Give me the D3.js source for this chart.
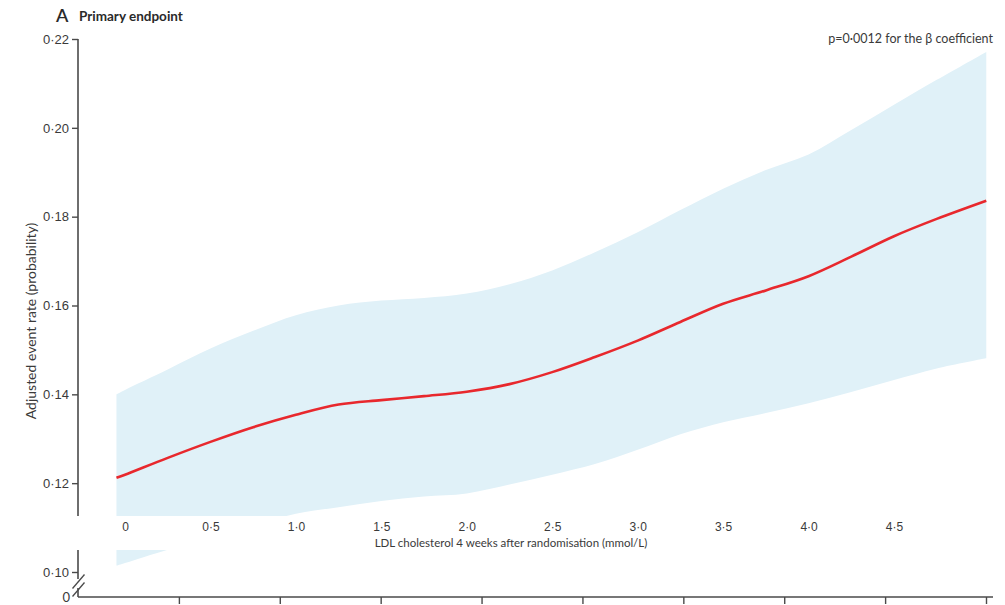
<!DOCTYPE html>
<html>
<head>
<meta charset="utf-8">
<script src="https://cdn.jsdelivr.net/npm/d3@7"></script>
<style>
  html, body { margin: 0; padding: 0; background: #fff; }
  svg { display: block; font-family: Lato, "Open Sans", sans-serif; }
</style>
</head>
<body>
<svg id="chart" width="1005" height="605"></svg>
<script>
// LDL cholesterol (mmol/L) at which the fitted curve is evaluated
const ldl = [-0.05, 0, 0.25, 0.5, 0.75, 1.0, 1.25, 1.5, 1.75, 2.0, 2.25, 2.5,
             2.75, 3.0, 3.25, 3.5, 3.75, 4.0, 4.25, 4.5, 4.75, 5.04];
// Adjusted event rate (probability)
const rate = [0.1212, 0.1219, 0.1257, 0.1293, 0.1326, 0.1354, 0.1377, 0.1387,
              0.1396, 0.1406, 0.1423, 0.1450, 0.1484, 0.1521, 0.1563, 0.1604,
              0.1634, 0.1666, 0.1710, 0.1756, 0.1795, 0.1836];
// 95% confidence band
const upper = [0.1400, 0.1410, 0.1456, 0.1503, 0.1543, 0.1578, 0.1600, 0.1611,
               0.1617, 0.1627, 0.1648, 0.1679, 0.1720, 0.1765, 0.1815, 0.1863,
               0.1905, 0.1940, 0.1995, 0.2052, 0.2108, 0.2171];
const lower = [0.1014, 0.1020, 0.1050, 0.1077, 0.1104, 0.1131, 0.1146, 0.1160,
               0.1170, 0.1177, 0.1197, 0.1219, 0.1243, 0.1275, 0.1310, 0.1337,
               0.1358, 0.1380, 0.1405, 0.1432, 0.1458, 0.1481];

const xTicks = [0, 0.5, 1.0, 1.5, 2.0, 2.5, 3.0, 3.5, 4.0, 4.5];
const yTicks = [0.10, 0.12, 0.14, 0.16, 0.18, 0.20, 0.22];
const baseTicks = [1, 2, 3, 4, 5, 6, 7, 8, 9];

const fmt = d => d3.format(".2f")(d).replace(".", "\u00B7");
const fmt1 = d => d === 0 ? "0" : d3.format(".1f")(d).replace(".", "\u00B7");

const svg = d3.select("#chart");
const axisColor = "#4a4a4a";
const textColor = "#3a3a3a";

const x = d3.scaleLinear().domain([0, 4.5]).range([125, 894]);
const y = d3.scaleLinear().domain([0.10, 0.22]).range([572, 39]);
const xBase = d3.scaleLinear().domain([0, 9]).range([78, 986]);

const rows = ldl.map((v, i) => ({ v, r: rate[i], hi: upper[i], lo: lower[i] }));
const smooth = d3.curveCatmullRom.alpha(0.5);

// confidence band
svg.append("path")
  .datum(rows)
  .attr("fill", "#e0f1f8")
  .attr("d", d3.area()
    .x(d => x(d.v))
    .y0(d => y(d.lo))
    .y1(d => y(d.hi))
    .curve(smooth));

// fitted curve
svg.append("path")
  .datum(rows)
  .attr("fill", "none")
  .attr("stroke", "#e8282d")
  .attr("stroke-width", 2.6)
  .attr("d", d3.line()
    .x(d => x(d.v))
    .y(d => y(d.r))
    .curve(smooth));

// y axis
const yAxis = svg.append("g")
  .attr("transform", "translate(78,0)")
  .call(d3.axisLeft(y).tickValues(yTicks).tickFormat(fmt).tickSize(6).tickPadding(3).tickSizeOuter(0));
yAxis.select(".domain").remove();
yAxis.selectAll(".tick line").attr("stroke", axisColor).attr("stroke-width", 1.4);
yAxis.selectAll(".tick text").attr("fill", textColor).style("font-size", "13px");

svg.append("line")
  .attr("x1", 78).attr("x2", 78)
  .attr("y1", y(0.22)).attr("y2", 597)
  .attr("stroke", axisColor).attr("stroke-width", 1.6);

// zero label below the axis break
svg.append("text")
  .attr("x", 70).attr("y", 597).attr("dy", "0.35em")
  .attr("text-anchor", "end")
  .attr("fill", textColor).style("font-size", "13px")
  .text("0");

// bottom axis
const bAxis = svg.append("g")
  .attr("transform", "translate(0,597)")
  .call(d3.axisBottom(xBase).tickValues(baseTicks).tickFormat("").tickSize(7).tickSizeOuter(0));
bAxis.select(".domain").remove();
bAxis.selectAll(".tick line").attr("stroke", axisColor).attr("stroke-width", 1.4);
svg.append("line")
  .attr("x1", 78).attr("x2", 993)
  .attr("y1", 597).attr("y2", 597)
  .attr("stroke", axisColor).attr("stroke-width", 1.6);

// axis break on the y axis
svg.append("rect").attr("x", 74).attr("y", 579).attr("width", 8).attr("height", 9).attr("fill", "#fff");
[[588.5, 574.5], [596.5, 582.5]].forEach(([a, b]) => {
  svg.append("line")
    .attr("x1", 72.5).attr("y1", a).attr("x2", 84.5).attr("y2", b)
    .attr("stroke", axisColor).attr("stroke-width", 1.3);
});

// label strip across the plot
svg.append("rect")
  .attr("x", 75).attr("y", 516).attr("width", 930).attr("height", 34)
  .attr("fill", "#fff");

const xLab = svg.append("g")
  .attr("transform", "translate(0,516)")
  .call(d3.axisBottom(x).tickValues(xTicks).tickFormat(fmt1).tickSize(0).tickPadding(6));
xLab.select(".domain").remove();
xLab.selectAll(".tick text").attr("fill", textColor).style("font-size", "12px");

svg.append("text")
  .attr("x", 511).attr("y", 547)
  .attr("text-anchor", "middle")
  .attr("fill", textColor).style("font-size", "11.5px")
  .text("LDL cholesterol 4 weeks after randomisation (mmol/L)");

// y axis title
svg.append("text")
  .attr("transform", "translate(36,321) rotate(-90)")
  .attr("text-anchor", "middle")
  .attr("fill", textColor).style("font-size", "14px")
  .text("Adjusted event rate (probability)");

// panel title
svg.append("text")
  .attr("x", 56).attr("y", 22)
  .attr("fill", "#2a2a2a").style("font-size", "18px").style("font-weight", "600")
  .text("A");
svg.append("text")
  .attr("x", 79).attr("y", 21)
  .attr("fill", "#2a2a2a").style("font-size", "13.5px").style("font-weight", "bold")
  .text("Primary endpoint");

// significance note
svg.append("text")
  .attr("x", 993).attr("y", 43)
  .attr("text-anchor", "end")
  .attr("fill", textColor).style("font-size", "12.5px")
  .text("p=0\u00B70012 for the \u03B2 coefficient");
</script>
</body>
</html>
